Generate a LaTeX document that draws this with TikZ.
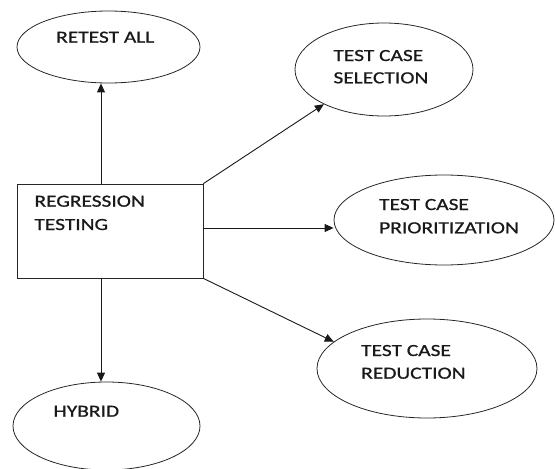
\documentclass[tikz,border=0pt]{standalone}
\usepackage{fontspec}
\newfontfamily\cf[FakeStretch=1.26,FakeBold=0.8]{Carlito}
\usetikzlibrary{shapes.geometric,arrows.meta}
\begin{document}
\begin{tikzpicture}[x=1pt,y=-1pt,
  oval/.style={draw=black!85,line width=0.8pt,ellipse,inner sep=0pt},
  boxnode/.style={draw=black!85,line width=0.8pt,rectangle,inner sep=0pt},
  lbl/.style={anchor=base west,inner sep=0pt,font=\cf\fontsize{17}{20}\selectfont,text=black!90},
  arr/.style={draw=black!90,line width=0.9pt,-{Triangle[length=9pt,width=8pt]}}]
\useasboundingbox (0,0) rectangle (555,469);
% nodes
\node[oval,minimum width=183pt,minimum height=72pt] (retest) at (108.5,47) {};
\node[oval,minimum width=178pt,minimum height=93pt] (sel) at (384,69.5) {};
\node[oval,minimum width=220pt,minimum height=90pt] (prio) at (444,220) {};
\node[oval,minimum width=220pt,minimum height=99pt] (red) at (427,368.5) {};
\node[oval,minimum width=187pt,minimum height=88pt] (hyb) at (106.5,426) {};
\node[boxnode,minimum width=186pt,minimum height=94pt] (box) at (110,231) {};
% labels
\node[lbl] (t1) at (56,42.7) {RETEST ALL};
\node[lbl] (t2) at (333.3,61) {TEST CASE};
\node[lbl] (t3) at (333.3,83.3) {SELECTION};
\node[lbl] (t4) at (379,210) {TEST CASE};
\node[lbl] (t5) at (379,233.3) {PRIORITIZATION};
\node[lbl] (t6) at (361,356) {TEST CASE};
\node[lbl] (t7) at (361,378.7) {REDUCTION};
\node[lbl] (t8) at (34.3,206.7) {REGRESSION};
\node[lbl] (t9) at (34.3,230) {TESTING};
\node[lbl] (t10) at (53.3,416.7) {HYBRID};
% connectors
\draw[arr] ([xshift=-9pt]box.north) -- ([xshift=-9pt]box.north |- retest.south);
\draw[arr] (box.north east) -- (sel.210);
\draw[arr] ([yshift=3pt]box.east) -- ([yshift=3pt]box.east -| prio.west);
\draw[arr] (box.south east) -- (red.164);
\draw[arr] ([xshift=-9pt]box.south) -- ([xshift=-9pt]box.south |- hyb.north);
\end{tikzpicture}
\end{document}
